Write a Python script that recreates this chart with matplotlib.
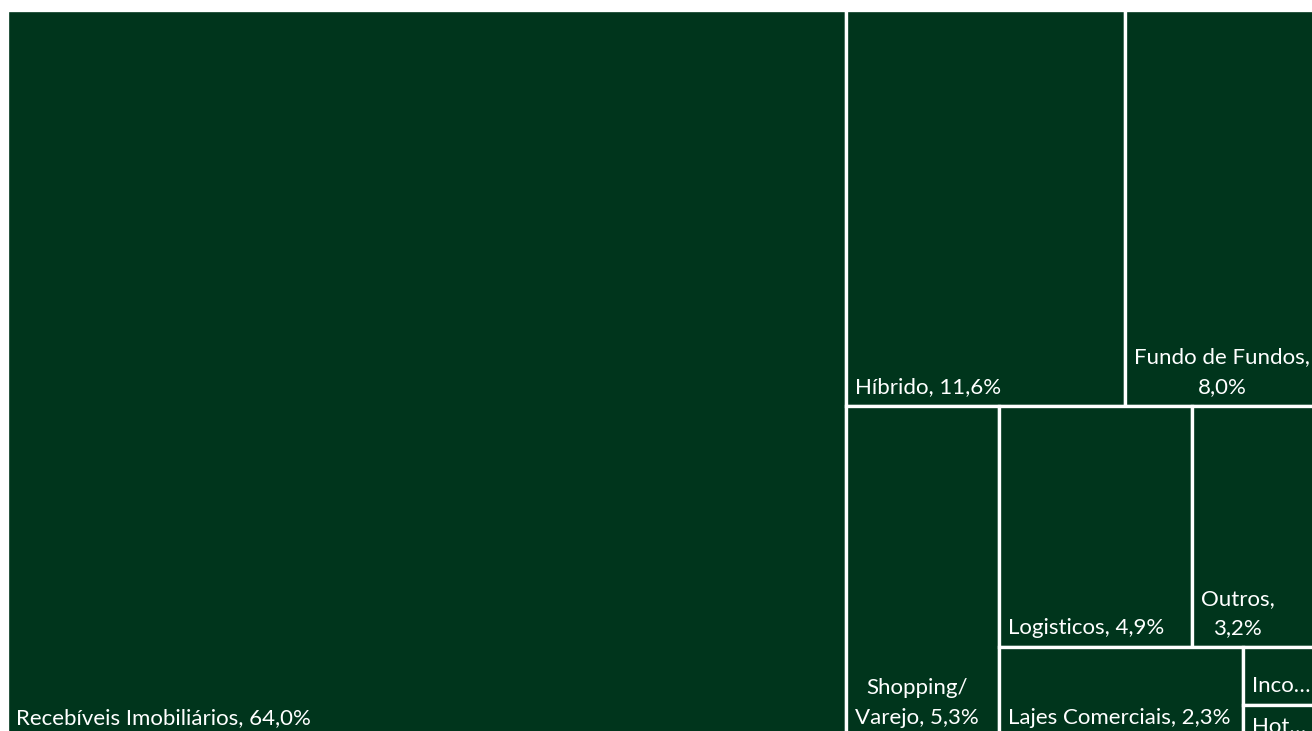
import matplotlib.pyplot as plt
from matplotlib.patches import Rectangle

# sector shares (%)
sectors = ["Recebíveis Imobiliários", "Híbrido", "Fundo de Fundos", "Shopping/ Varejo",
           "Logisticos", "Outros", "Lajes Comerciais", "Incorporação", "Hotel"]
shares = [64.0, 11.6, 8.0, 5.3, 4.9, 3.2, 2.3, 0.45, 0.25]
label_text = ["Recebíveis Imobiliários, 64,0%", "Híbrido, 11,6%", "Fundo de Fundos,\n8,0%",
              "Shopping/\nVarejo, 5,3%", "Logisticos, 4,9%", "Outros,\n3,2%",
              "Lajes Comerciais, 2,3%", "Inco…", "Hot…"]
# how many tiles go into each strip of the squarified layout
strips = [1, 2, 1, 2, 1, 1, 1]

GREEN = "#00351c"


def treemap(vals, groups, x, y, w, h):
    rects = []
    left = sum(vals)
    i = 0
    for n in groups:
        row = vals[i:i + n]
        s = sum(row)
        frac = s / left
        if w >= h:
            cw = w * frac
            yy = y
            for v in row:
                rh = h * v / s
                rects.append((x, yy, cw, rh))
                yy += rh
            x += cw
            w -= cw
        else:
            rh = h * frac
            xx = x
            for v in row:
                cw = w * v / s
                rects.append((xx, y, cw, rh))
                xx += cw
            y += rh
            h -= rh
        left -= s
        i += n
    return rects


fig = plt.figure(figsize=(13.12, 7.31), dpi=100)
ax = fig.add_axes([0, 0, 1, 1])
ax.set_xlim(0, 1312)
ax.set_ylim(731, 0)
ax.axis("off")

boxes = treemap(shares, strips, 7, 10, 1311, 727)
for (bx, by, bw, bh), txt in zip(boxes, label_text):
    ax.add_patch(Rectangle((bx, by), bw, bh, facecolor=GREEN, edgecolor="white", linewidth=2.4))
    if bh < 40:
        # label too tall for the tile: hangs from the top and gets clipped
        ax.text(bx + 9, by + 12, txt, color="white", fontsize=16, family="Lato",
                ha="left", va="top", multialignment="center", linespacing=1.6, clip_on=True)
    else:
        ax.text(bx + 9, by + bh - 9, txt, color="white", fontsize=16, family="Lato",
                ha="left", va="bottom", multialignment="center", linespacing=1.6, clip_on=True)

fig.savefig("out.png", dpi=100)
